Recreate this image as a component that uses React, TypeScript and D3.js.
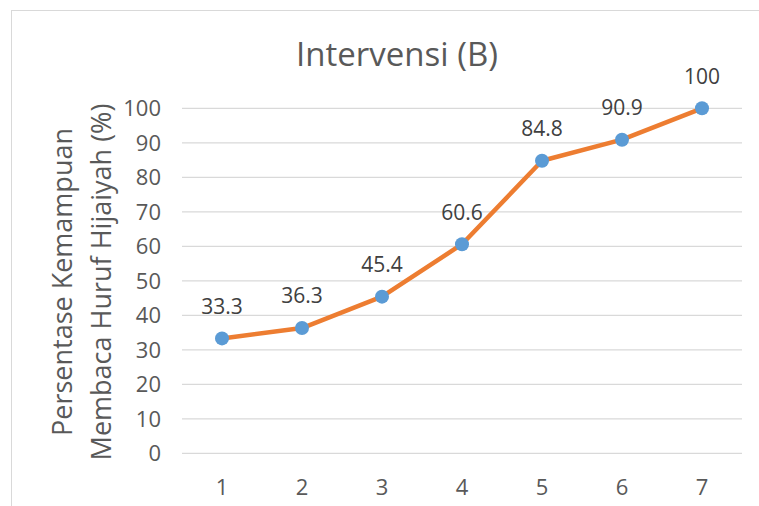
import React, { useEffect, useRef } from 'react'
import * as d3 from 'd3'

const categories = ['1', '2', '3', '4', '5', '6', '7']
const values = [33.3, 36.3, 45.4, 60.6, 84.8, 90.9, 100]
const yTicks = [0, 10, 20, 30, 40, 50, 60, 70, 80, 90, 100]

const App = () => {
    const ref = useRef<SVGSVGElement>(null)

    useEffect(() => {
        const svg = d3.select(ref.current)
        svg.selectAll('*').remove()
        const font = '"Open Sans", sans-serif'

        // chart border
        svg.append('rect')
            .attr('x', 11.5).attr('y', 10.5)
            .attr('width', 800).attr('height', 600)
            .attr('fill', 'white')
            .attr('stroke', '#d9d9d9')

        const x = d3.scaleBand().domain(categories).range([182, 742])
        const y = d3.scaleLinear().domain([0, 100]).range([453.3, 108.3])

        // gridlines
        svg.append('g')
            .selectAll('line')
            .data(yTicks)
            .join('line')
            .attr('x1', 182).attr('x2', 742)
            .attr('y1', d => y(d)).attr('y2', d => y(d))
            .attr('stroke', '#d9d9d9')
            .attr('stroke-width', 1.2)

        // y tick labels
        svg.append('g')
            .selectAll('text')
            .data(yTicks)
            .join('text')
            .attr('x', 161)
            .attr('y', d => y(d))
            .attr('dy', '0.35em')
            .attr('text-anchor', 'end')
            .attr('fill', '#595959')
            .style('font-family', font)
            .style('font-size', '22px')
            .text(d => d)

        // x tick labels
        svg.append('g')
            .selectAll('text')
            .data(categories)
            .join('text')
            .attr('x', d => (x(d) as number) + x.bandwidth() / 2)
            .attr('y', 487)
            .attr('dy', '0.35em')
            .attr('text-anchor', 'middle')
            .attr('fill', '#595959')
            .style('font-family', font)
            .style('font-size', '22px')
            .text(d => d)

        // title
        svg.append('text')
            .attr('x', 397).attr('y', 66)
            .attr('text-anchor', 'middle')
            .attr('fill', '#595959')
            .style('font-family', font)
            .style('font-size', '33px')
            .text('Intervensi (B)')

        // y axis title
        const yt = svg.append('text')
            .attr('transform', 'translate(0,282) rotate(-90)')
            .attr('text-anchor', 'middle')
            .attr('fill', '#595959')
            .style('font-family', font)
            .style('font-size', '27px')
        yt.append('tspan').attr('x', 0).attr('y', 72).text('Persentase Kemampuan')
        yt.append('tspan').attr('x', 0).attr('y', 111).text('Membaca Huruf Hijaiyah (%)')

        const cx = (i: number) => (x(categories[i]) as number) + x.bandwidth() / 2

        const line = d3.line<number>()
            .x((d, i) => cx(i))
            .y(d => y(d))

        svg.append('path')
            .datum(values)
            .attr('d', line)
            .attr('fill', 'none')
            .attr('stroke', '#ED7D31')
            .attr('stroke-width', 4.5)
            .attr('stroke-linejoin', 'round')
            .attr('stroke-linecap', 'round')

        svg.append('g')
            .selectAll('circle')
            .data(values)
            .join('circle')
            .attr('cx', (d, i) => cx(i))
            .attr('cy', d => y(d))
            .attr('r', 7)
            .attr('fill', '#5B9BD5')

        // data labels
        svg.append('g')
            .selectAll('text')
            .data(values)
            .join('text')
            .attr('x', (d, i) => cx(i))
            .attr('y', d => y(d) - 32)
            .attr('dy', '0.35em')
            .attr('text-anchor', 'middle')
            .attr('fill', '#404040')
            .style('font-family', font)
            .style('font-size', '21px')
            .text(d => d)
    }, [])

    return (
        <svg ref={ref} width={759} height={506} style={{ position: 'absolute', left: 0, top: 0 }} />
    )
}

export default App
